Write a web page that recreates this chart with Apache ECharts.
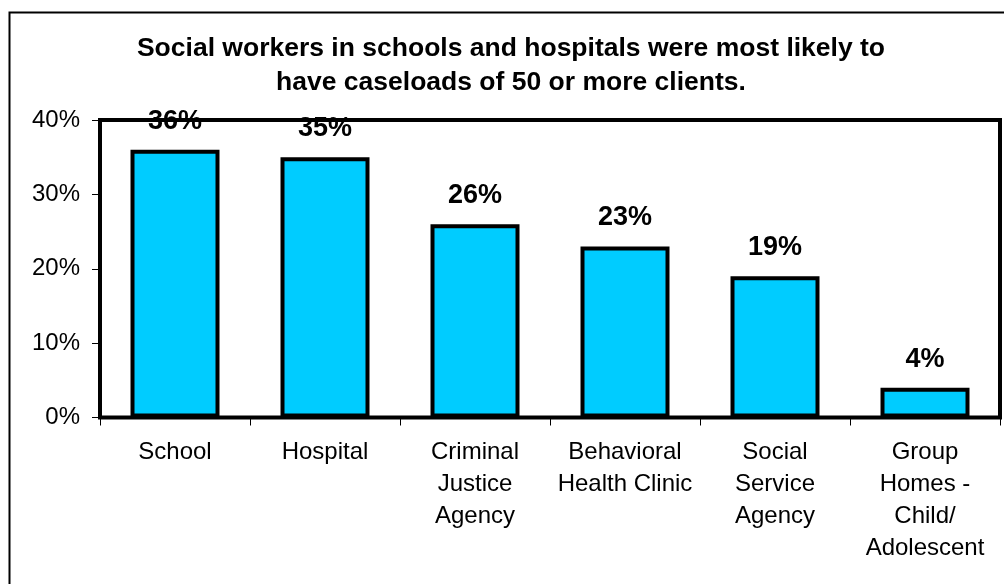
<!DOCTYPE html>
<html>
<head>
<meta charset="utf-8">
<script src="https://cdn.jsdelivr.net/npm/echarts@6/dist/echarts.min.js"></script>
<style>
  html, body { margin: 0; padding: 0; background: #fff; }
  #chart { width: 1004px; height: 584px; }
</style>
</head>
<body>
<div id="chart"></div>
<script>
// Share of social workers with caseloads of 50+ clients, by practice setting
const categories = [
  'School',
  'Hospital',
  'Criminal\nJustice\nAgency',
  'Behavioral\nHealth Clinic',
  'Social\nService\nAgency',
  'Group\nHomes -\nChild/\nAdolescent'
];
const percentValues = [36, 35, 26, 23, 19, 4];
const yTicks = { min: 0, max: 40, interval: 10 };
const titleText = 'Social workers in schools and hospitals were most likely to\nhave caseloads of 50 or more clients.';

const FONT = '"Liberation Sans", Arial, sans-serif';

const chart = echarts.init(document.getElementById('chart'), null, { renderer: 'canvas' });

chart.setOption({
  backgroundColor: '#ffffff',
  animation: false,
  title: {
    text: titleText,
    left: 506,
    top: 27,
    textAlign: 'center',
    textStyle: {
      fontFamily: FONT,
      fontSize: 26.5,
      fontWeight: 'bold',
      color: '#000',
      lineHeight: 34
    }
  },
  graphic: [
    {
      // thin outer frame of the chart area
      type: 'rect',
      left: 7,
      top: 10,
      shape: { width: 1010, height: 600 },
      style: { fill: 'none', stroke: '#000', lineWidth: 2 },
      z: 100,
      silent: true
    }
  ],
  grid: {
    show: true,
    left: 100,
    right: 4,
    top: 120,
    bottom: 166.5,
    borderColor: '#000',
    borderWidth: 4,
    backgroundColor: 'transparent',
    z: 10
  },
  xAxis: {
    type: 'category',
    data: categories,
    boundaryGap: true,
    axisLine: { show: false },
    axisTick: {
      show: true,
      alignWithLabel: false,
      length: 8,
      lineStyle: { color: '#000', width: 1 }
    },
    axisLabel: {
      interval: 0,
      margin: 19,
      fontFamily: FONT,
      fontSize: 24,
      lineHeight: 32,
      color: '#000',
      align: 'center'
    },
    splitLine: { show: false }
  },
  yAxis: {
    type: 'value',
    min: yTicks.min,
    max: yTicks.max,
    interval: yTicks.interval,
    axisLine: { show: false },
    axisTick: {
      show: true,
      length: 8,
      lineStyle: { color: '#000', width: 1 }
    },
    axisLabel: {
      formatter: '{value}%',
      margin: 20,
      fontFamily: FONT,
      fontSize: 24,
      color: '#000'
    },
    splitLine: { show: false }
  },
  series: [
    {
      type: 'bar',
      data: percentValues,
      barWidth: 89,
      itemStyle: {
        color: '#00CCFF',
        borderColor: '#000',
        borderWidth: 4
      },
      label: {
        show: true,
        position: 'top',
        distance: 15,
        formatter: '{c}%',
        fontFamily: FONT,
        fontSize: 27,
        fontWeight: 'bold',
        color: '#000'
      },
      z: 2
    }
  ]
});
</script>
</body>
</html>
